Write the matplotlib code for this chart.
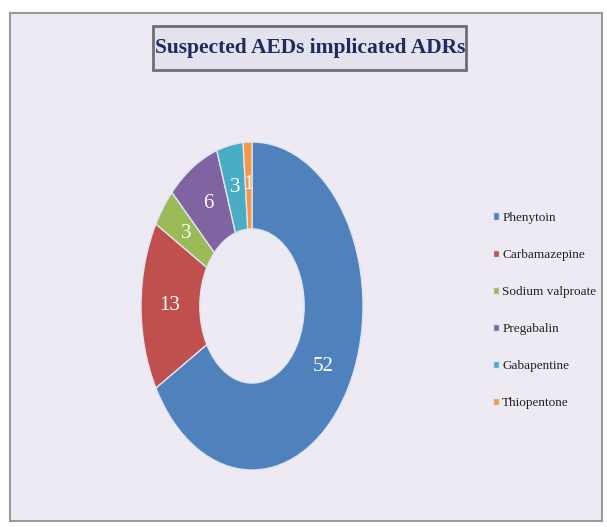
import matplotlib
matplotlib.use("Agg")
import matplotlib.pyplot as plt
from matplotlib.patches import Rectangle

drugs = ["Phenytoin", "Carbamazepine", "Sodium valproate", "Pregabalin", "Gabapentine", "Thiopentone"]
counts = [52, 13, 3, 6, 3, 1]
colors = ["#4F81BD", "#C0504D", "#9BBB59", "#8064A2", "#4BACC6", "#F79646"]
title = "Suspected AEDs implicated ADRs"

W, H = 607, 527
fig = plt.figure(figsize=(W / 100, H / 100), dpi=100)
fig.patch.set_facecolor("white")

# chart area frame
fig.patches.append(Rectangle((10 / W, 1 - 521 / H), 592 / W, 508 / H, transform=fig.transFigure,
                             facecolor="#EEEAF3", edgecolor="#9A9A9A", lw=1.5, zorder=-2))
# title box
fig.patches.append(Rectangle((153 / W, 1 - 70 / H), 313 / W, 44 / H, transform=fig.transFigure,
                             facecolor="#E4E2EC", edgecolor="#6E6E78", lw=2.0, zorder=-1))
fig.text(310 / W, 1 - 48 / H, title, ha="center", va="center", fontsize=15.5, fontweight="bold",
         family="Liberation Serif", color="#1F2B5E", zorder=2)

total = sum(counts)
ax = fig.add_axes([141 / W, 1 - 470 / H, 222 / W, 328 / H])
ax.set_zorder(3)
ax.patch.set_visible(False)
wedges, texts, autotexts = ax.pie(
    counts, colors=colors, startangle=90, counterclock=False, radius=1.0,
    wedgeprops=dict(width=0.53, edgecolor="#DDE6F0", linewidth=1.0),
    autopct=lambda p: f"{round(p * total / 100)}", pctdistance=0.74,
    textprops=dict(color="white", fontsize=15, family="Liberation Serif"))
ax.set_aspect("auto")
ax.set_xlim(-1.0, 1.0)
ax.set_ylim(-1.0, 1.0)
ax.axis("off")

leg = fig.legend(wedges, drugs, loc="upper left", bbox_to_anchor=(481 / W, 1 - 200 / H),
                 frameon=False, prop=dict(family="Liberation Serif", size=9.5),
                 handlelength=0.5, handleheight=0.5, handletextpad=0.2, labelspacing=1.9)
leg.set_zorder(4)
for t in leg.get_texts():
    t.set_color("#222222")

fig.savefig("out.png", dpi=100, facecolor="white")
